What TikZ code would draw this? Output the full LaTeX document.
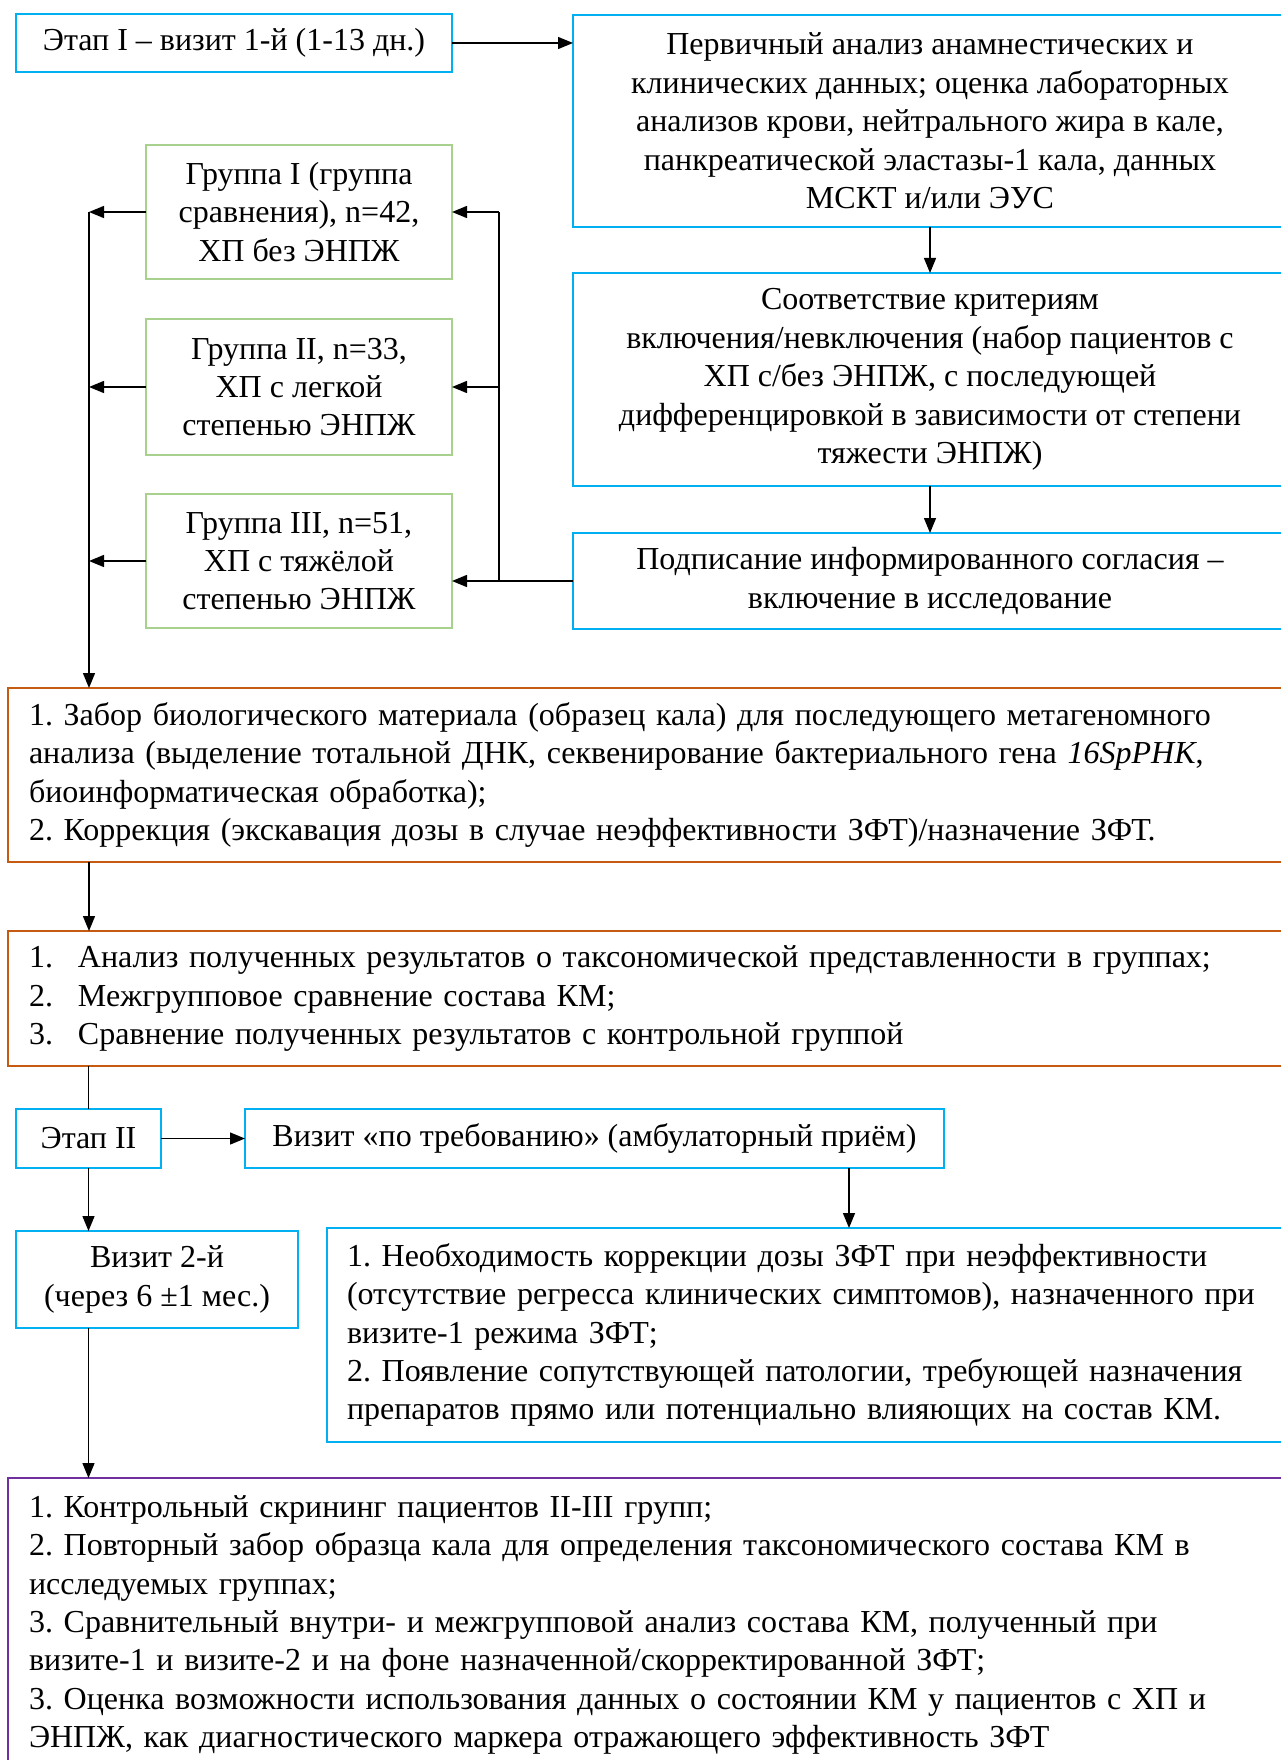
\documentclass[tikz,border=0pt]{standalone}
\usepackage{fontspec}
\setmainfont{Liberation Serif}
\usetikzlibrary{arrows.meta}
\definecolor{cblue}{HTML}{00B0F0}
\definecolor{cgreen}{HTML}{A9D18E}
\definecolor{corange}{HTML}{C55A11}
\definecolor{cpurple}{HTML}{7030A0}
\frenchspacing
\begin{document}
\begin{tikzpicture}[x=0.5pt,y=-0.5pt,
  font=\fontsize{16}{19.2}\selectfont\frenchspacing,
  box/.style={draw, rectangle, anchor=north west, inner sep=0pt, outer sep=0pt, align=center},
  bluebox/.style={box, draw=cblue, line width=1.3pt},
  greenbox/.style={box, draw=cgreen, line width=1.2pt},
  orangebox/.style={box, draw=corange, line width=1.3pt, align=left, inner xsep=10.5pt},
  purplebox/.style={box, draw=cpurple, line width=1.3pt, align=left, inner xsep=10.5pt},
  listbox/.style={box, draw=cblue, line width=1.3pt, align=left, inner xsep=10pt},
  arr/.style={-{Triangle[length=7.5pt,width=6pt]}, line width=0.7pt},
  ln/.style={line width=0.7pt}]
\useasboundingbox (0,0) rectangle (1280,1760);

% Stage I
\node[bluebox, minimum width=218pt, minimum height=29pt] (e1) at (16,14) {Этап I – визит 1-й (1-13 дн.)};
\node[bluebox, minimum width=357pt, minimum height=106pt] (b1) at (573,15)
 {Первичный анализ анамнестических и\\
  клинических данных; оценка лабораторных\\
  анализов крови, нейтрального жира в кале,\\
  панкреатической эластазы-1 кала, данных\\
  МСКТ и/или ЭУС};
\node[bluebox, minimum width=357pt, minimum height=106.5pt] (b2) at (573,273)
 {Соответствие критериям\\
  включения/невключения (набор пациентов с\\
  ХП с/без ЭНПЖ, с последующей\\
  дифференцировкой в зависимости от степени\\
  тяжести ЭНПЖ)};
\node[bluebox, minimum width=357pt, minimum height=48pt] (b3) at (573,533)
 {Подписание информированного согласия –\\
  включение в исследование};

% Groups
\node[greenbox, minimum width=153pt, minimum height=67pt] (g1) at (146,145)
 {Группа I (группа\\ сравнения), n=42,\\ ХП без ЭНПЖ};
\node[greenbox, minimum width=153pt, minimum height=68pt] (g2) at (146,319)
 {Группа II, n=33,\\ ХП с легкой\\ степенью ЭНПЖ};
\node[greenbox, minimum width=153pt, minimum height=67pt] (g3) at (146,494)
 {Группа III, n=51,\\ ХП с тяжёлой\\ степенью ЭНПЖ};

% Orange boxes
\node[orangebox, text width=620pt, minimum height=87pt] (o1) at (8,688)
 {1. Забор биологического материала (образец кала) для последующего метагеномного\\
  анализа (выделение тотальной ДНК, секвенирование бактериального гена \textit{16SрРНК},\\
  биоинформатическая обработка);\\
  2. Коррекция (экскавация дозы в случае неэффективности ЗФТ)/назначение ЗФТ.};
\node[orangebox, text width=620pt, minimum height=67.5pt] (o2) at (8,931)
 {\makebox[24.5pt][l]{1.}Анализ полученных результатов о таксономической представленности в группах;\\
  \makebox[24.5pt][l]{2.}Межгрупповое сравнение состава КМ;\\
  \makebox[24.5pt][l]{3.}Сравнение полученных результатов с контрольной группой};

% Stage II
\node[bluebox, minimum width=72.5pt, minimum height=29.5pt] (e2) at (16,1109) {Этап II};
\node[bluebox, minimum width=349.5pt, minimum height=29.5pt] (v) at (245,1109)
 {Визит «по требованию» (амбулаторный приём)};
\node[listbox, text width=461.5pt, minimum height=107pt] (n) at (327,1228)
 {1. Необходимость коррекции дозы ЗФТ при неэффективности\\
  (отсутствие регресса клинических симптомов), назначенного при\\
  визите-1 режима ЗФТ;\\
  2. Появление сопутствующей патологии, требующей назначения\\
  препаратов прямо или потенциально влияющих на состав КМ.};
\node[bluebox, minimum width=141pt, minimum height=48.5pt] (v2) at (16,1231)
 {Визит 2-й\\ (через 6 ±1 мес.)};

% Purple box
\node[purplebox, text width=620pt, minimum height=147pt] (p) at (8,1478)
 {1. Контрольный скрининг пациентов II-III групп;\\
  2. Повторный забор образца кала для определения таксономического состава КМ в\\
  исследуемых группах;\\
  3. Сравнительный внутри- и межгрупповой анализ состава КМ, полученный при\\
  визите-1 и визите-2 и на фоне назначенной/скорректированной ЗФТ;\\
  3. Оценка возможности использования данных о состоянии КМ у пациентов с ХП и\\
  ЭНПЖ, как диагностического маркера отражающего эффективность ЗФТ};

% Connectors
\coordinate (jl) at (89,0);
\coordinate (jr) at (499,0);
\coordinate (jv) at (849,0);
\draw[arr] (e1.east) -- (e1.east -| b1.west);
\draw[arr] (b1.south) -- (b2.north);
\draw[arr] (b2.south) -- (b3.north);
\draw[arr] (b3.west) -- (b3.west -| g3.east);
\draw[ln] (b3.west -| jr) -- (g1.east -| jr);
\draw[arr] (g1.east -| jr) -- (g1.east);
\draw[arr] (g2.east -| jr) -- (g2.east);
\draw[arr] (g1.west) -- (g1.west -| jl);
\draw[arr] (g2.west) -- (g2.west -| jl);
\draw[arr] (g3.west) -- (g3.west -| jl);
\draw[arr] (g1.west -| jl) -- (o1.north -| jl);
\draw[arr] (o1.south -| jl) -- (o2.north -| jl);
\draw[ln] (o2.south -| e2.north) -- (e2.north);
\draw[arr] (e2.east) -- (v.west);
\draw[arr] (v.south -| jv) -- (n.north -| jv);
\draw[arr] (e2.south) -- (e2.south |- v2.north);
\draw[arr] (v2.south -| e2.south) -- (p.north -| e2.south);
\end{tikzpicture}
\end{document}
